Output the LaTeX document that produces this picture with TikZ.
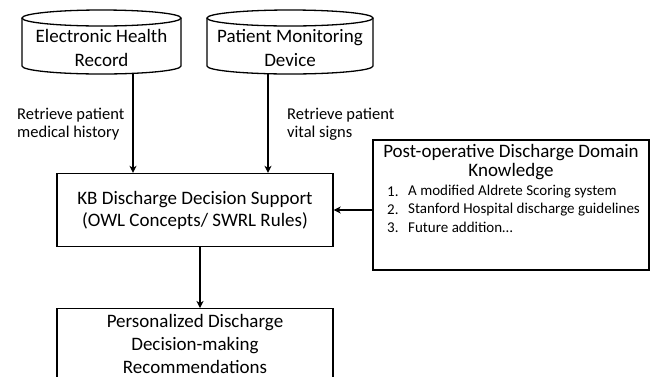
\documentclass[tikz,border=0pt]{standalone}
\usepackage{fontspec}
\setmainfont{Carlito}
\usetikzlibrary{arrows.meta}
\begin{document}
\begin{tikzpicture}[x=1pt,y=-1pt,
  box/.style={draw, line width=1.3pt, minimum width=276pt, align=center},
  big/.style={align=center, font=\fontsize{19}{23}\selectfont},
  lbl/.style={align=left, anchor=west, inner sep=0pt, font=\fontsize{15}{18}\selectfont},
  side/.style={lbl, font=\fontsize{16.5}{18}\selectfont},
  conn/.style={line width=1.3pt, -{Stealth[length=7pt,width=7pt,inset=2pt]}},
  outline/.style={line width=1.3pt}]
\useasboundingbox (0,0) rectangle (652,376);
\clip (0,0) rectangle (652,376);
% cylinders
\node[big, font=\fontsize{19}{24}\selectfont] (ehr) at (101.5,48) {Electronic Health\\Record};
\draw[outline] (101.5,18) ellipse [x radius=79.5, y radius=8];
\draw[outline] (22,18) -- (22,66) arc [start angle=180, end angle=360, x radius=79.5, y radius=-8] -- (181,18);
\coordinate (ehrb) at (133,74);
\node[big, font=\fontsize{19}{24}\selectfont] (pmd) at (290,48) {Patient Monitoring\\Device};
\draw[outline] (290,18) ellipse [x radius=83, y radius=8];
\draw[outline] (207,18) -- (207,66) arc [start angle=180, end angle=360, x radius=83, y radius=-8] -- (373,18);
\coordinate (pmdb) at (268,74);
% KB box
\node[box, minimum height=73pt, font=\fontsize{19}{22}\selectfont] (kb) at (195,210) {KB Discharge Decision Support\\(OWL Concepts/ SWRL Rules)};
% domain box
\node[draw, line width=1.3pt, minimum width=276pt, minimum height=130pt] (dom) at (511,205) {};
\node[align=center, font=\fontsize{19}{19}\selectfont] (domt) at (511,162.5) {Post-operative Discharge Domain\\Knowledge};
\node[lbl] (n1) at (387,192) {1.};
\node[lbl] (t1) at (408,192) {A modified Aldrete Scoring system};
\node[lbl] (n2) at (387,210) {2.};
\node[lbl] (t2) at (408,210) {Stanford Hospital discharge guidelines};
\node[lbl] (n3) at (387,227.5) {3.};
\node[lbl] (t3) at (408,227.5) {Future addition…};
% result box
\node[box, minimum height=84pt, anchor=north] (res) at (195,308) {};
\node[big, inner sep=1pt] (rest) at (195,343.5) {Personalized Discharge\\Decision-making\\Recommendations};
% labels
\node[side] (l1) at (17,124) {Retrieve patient\\medical history};
\node[side] (l2) at (287,124) {Retrieve patient\\vital signs};
% connectors
\draw[conn] (ehrb) -- (ehrb |- kb.north);
\draw[conn] (pmdb) -- (pmdb |- kb.north);
\draw[conn] (dom.west |- kb.east) -- (kb.east);
\coordinate (kbb) at (200,246.5);
\draw[conn] (kbb) -- (kbb |- res.north);
\end{tikzpicture}
\end{document}
